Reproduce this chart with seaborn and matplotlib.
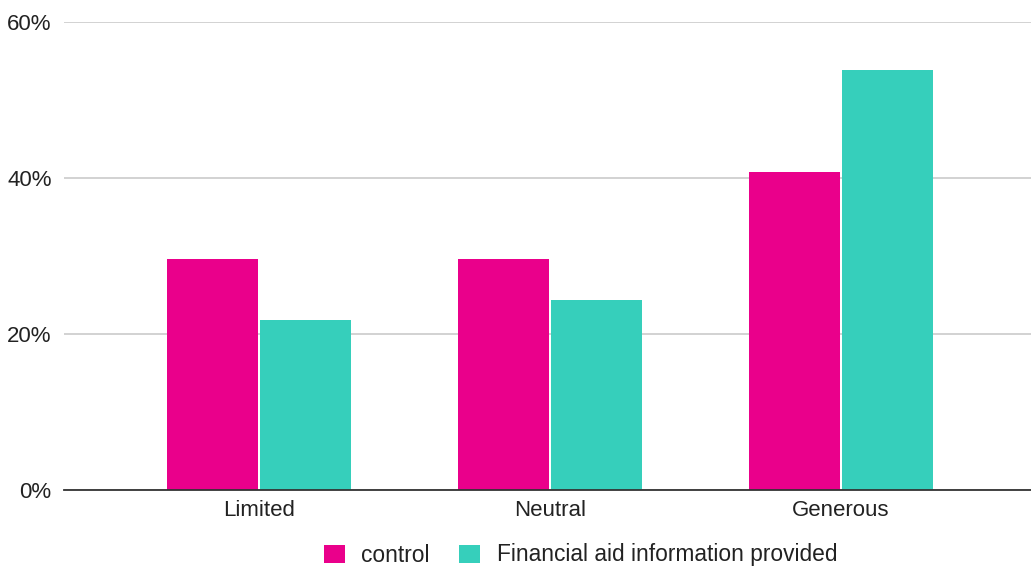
import matplotlib
matplotlib.use("Agg")
import matplotlib.pyplot as plt
from matplotlib.patches import Patch
from matplotlib.ticker import PercentFormatter
import seaborn as sns
import pandas as pd

categories = ["Limited", "Neutral", "Generous"]
groups = ["control", "Financial aid information provided"]
control_vals = [29.6, 29.6, 40.8]
aid_vals = [21.8, 24.3, 53.8]
colors = ["#EA008B", "#36CFBB"]

df = pd.DataFrame({
    "category": categories * 2,
    "group": [groups[0]] * 3 + [groups[1]] * 3,
    "value": control_vals + aid_vals,
})

sns.set_theme(style="white")
plt.rcParams["font.family"] = ["Liberation Sans", "DejaVu Sans"]

fig = plt.figure(figsize=(10.31, 5.66), dpi=100)
ax = fig.add_axes([64 / 1031, 76 / 566, 1 - 64 / 1031, 468 / 566])

sns.barplot(data=df, x="category", y="value", hue="group", order=categories,
            hue_order=groups, palette=colors, width=0.645, gap=0.03,
            saturation=1, ax=ax, legend=False, edgecolor="none")

ax.set_ylim(0, 60)
ax.set_xlim(-0.67, 2.653)
ax.set_yticks([0, 20, 40, 60])
ax.yaxis.set_major_formatter(PercentFormatter(decimals=0))
ax.set_xlabel("")
ax.set_ylabel("")

ax.grid(axis="y", color="#CFCFCF", linewidth=1.3)
ax.set_axisbelow(True)
for side in ["top", "right", "left"]:
    ax.spines[side].set_visible(False)
ax.spines["bottom"].set_color("#333333")
ax.spines["bottom"].set_linewidth(1.3)

ax.tick_params(axis="y", length=0, pad=9, labelsize=16, labelcolor="#222222")
ax.tick_params(axis="x", length=0, pad=7, labelsize=16, labelcolor="#222222")

handles = [Patch(facecolor=c, edgecolor="none") for c in colors]
fig.legend(handles, groups, loc="center left",
           bbox_to_anchor=(324 / 1031, 1 - 555 / 566), ncol=2, frameon=False,
           fontsize=16.4, handlelength=0.92, handleheight=0.85,
           handletextpad=0.72, columnspacing=1.3, borderpad=0, borderaxespad=0,
           labelcolor="#222222")

fig.savefig("out.png", dpi=100)
